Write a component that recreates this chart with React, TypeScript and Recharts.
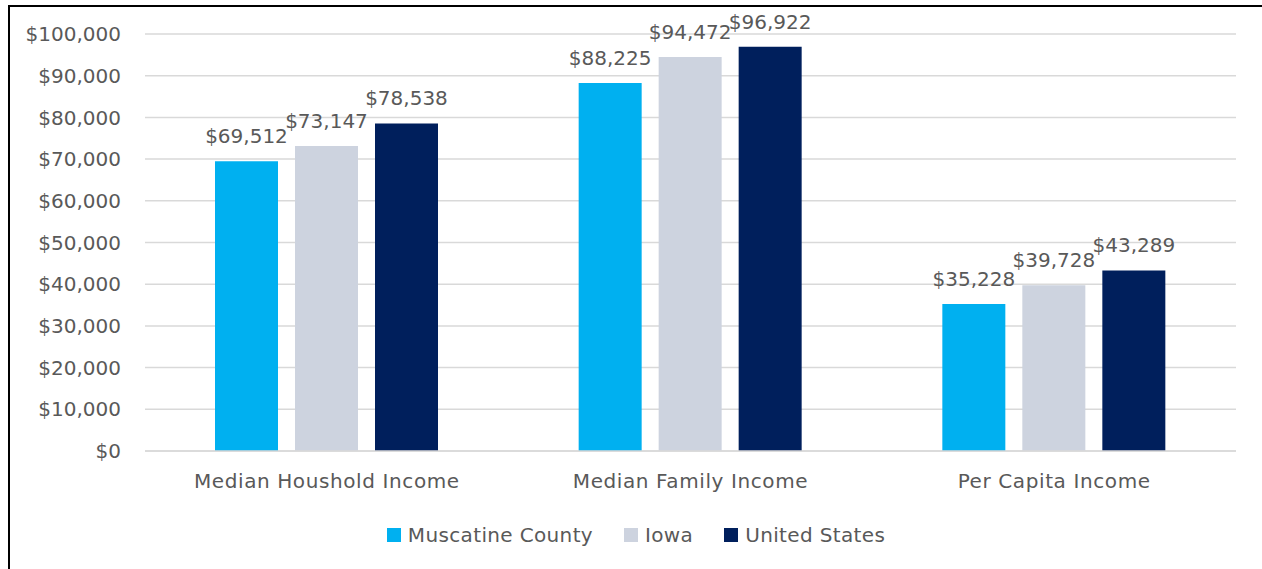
import React from 'react';
import { BarChart, Bar, XAxis, YAxis, CartesianGrid, Legend, LabelList } from 'recharts';

const categories = ['Median Houshold Income', 'Median Family Income', 'Per Capita Income'];
const muscatine = [69512, 88225, 35228];
const iowa = [73147, 94472, 39728];
const unitedStates = [78538, 96922, 43289];
const yTicks = [0, 10000, 20000, 30000, 40000, 50000, 60000, 70000, 80000, 90000, 100000];

const seriesMeta = [
  { key: 'muscatine', name: 'Muscatine County', color: '#00B0F0' },
  { key: 'iowa', name: 'Iowa', color: '#CDD3DF' },
  { key: 'us', name: 'United States', color: '#001F5C' },
];

const data = categories.map((c, i) => ({
  category: c,
  muscatine: muscatine[i],
  iowa: iowa[i],
  us: unitedStates[i],
}));

const FONT = '"DejaVu Sans", sans-serif';
const TEXT = '#595959';
const money = (v: number) => `$${Number(v).toLocaleString('en-US')}`;

const LegendContent = (props: any) => {
  const payload = [...(props.payload || [])].sort(
    (a: any, b: any) =>
      seriesMeta.findIndex((s) => s.name === a.value) - seriesMeta.findIndex((s) => s.name === b.value)
  );
  return (
    <div
      style={{
        display: 'flex',
        justifyContent: 'center',
        fontFamily: FONT,
        fontSize: 20,
        letterSpacing: 0.35,
        color: TEXT,
      }}
    >
      {payload.map((p: any, i: number) => (
        <div key={i} style={{ display: 'flex', alignItems: 'center', marginLeft: i === 0 ? 0 : 31 }}>
          <span style={{ width: 14, height: 14, background: p.color, display: 'inline-block', marginRight: 7 }} />
          <span>{p.value}</span>
        </div>
      ))}
    </div>
  );
};

export default function App() {
  return (
    <div
      style={{
        position: 'fixed',
        top: 5,
        left: 8,
        width: 1254,
        height: 564,
        borderTop: '2px solid #000',
        borderLeft: '2px solid #000',
        boxSizing: 'border-box',
        background: '#fff',
      }}
    >
      <BarChart
        width={1252}
        height={562}
        data={data}
        margin={{ top: 27, right: 26, left: 0, bottom: 78 }}
        barCategoryGap={70}
        barGap={17}
      >
        <CartesianGrid vertical={false} stroke="#D9D9D9" strokeWidth={1.5} />
        <XAxis
          dataKey="category"
          height={40}
          tickLine={false}
          tickSize={0}
          tickMargin={23}
          axisLine={{ stroke: '#D9D9D9', strokeWidth: 1.5 }}
          tick={{ fill: TEXT, fontSize: 20, fontFamily: FONT, letterSpacing: 0.6 }}
        />
        <YAxis
          width={135}
          domain={[0, 100000]}
          ticks={yTicks}
          interval={0}
          axisLine={false}
          tickLine={false}
          tickSize={0}
          tickMargin={24}
          tickFormatter={money}
          tick={{ fill: TEXT, fontSize: 20, fontFamily: FONT }}
        />
        <Legend
          verticalAlign="middle"
          layout="horizontal"
          content={<LegendContent />}
          wrapperStyle={{ top: 516, left: 0, width: 1252 }}
        />
        {seriesMeta.map((s) => (
          <Bar key={s.key} dataKey={s.key} name={s.name} fill={s.color} isAnimationActive={false}>
            <LabelList
              dataKey={s.key}
              position="top"
              offset={18}
              formatter={money}
              fill={TEXT}
              fontSize={20}
              fontFamily={FONT}
            />
          </Bar>
        ))}
      </BarChart>
    </div>
  );
}
